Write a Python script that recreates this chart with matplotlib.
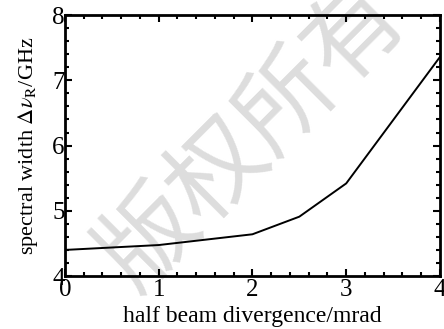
import matplotlib
matplotlib.use("Agg")
import matplotlib.pyplot as plt
from matplotlib.ticker import MultipleLocator

plt.rcParams['font.family'] = ['Liberation Serif', 'DejaVu Serif']
plt.rcParams['mathtext.fontset'] = 'stix'

divergence = [0, 1, 2, 2.5, 3, 4]
spectral_width = [4.40, 4.475, 4.64, 4.91, 5.42, 7.36]

fig = plt.figure(figsize=(4.44, 3.29), dpi=100)
ax = fig.add_axes([0.146, 0.161, 0.845, 0.793])

# watermark
fig.text(0.57, 0.585, '版权所有', fontsize=70, color='#dddddd', rotation=45,
         ha='center', va='center', family=['Noto Sans CJK SC', 'DejaVu Sans'], zorder=-5)

ax.plot(divergence, spectral_width, color='black', lw=1.4, zorder=3)
ax.set_xlim(0, 4)
ax.set_ylim(4, 8)
ax.patch.set_alpha(0)
ax.xaxis.set_major_locator(MultipleLocator(1))
ax.xaxis.set_minor_locator(MultipleLocator(0.2))
ax.yaxis.set_major_locator(MultipleLocator(1))
ax.yaxis.set_minor_locator(MultipleLocator(0.2))
ax.tick_params(which='both', direction='in', top=True, right=True, width=1.5)
ax.tick_params(which='major', length=5, labelsize=18)
ax.tick_params(axis='x', which='major', pad=2)
ax.tick_params(axis='y', which='major', pad=0)
ax.tick_params(which='minor', length=3)
for s in ax.spines.values():
    s.set_linewidth(2)
ax.set_xlabel('half beam divergence/mrad', fontsize=17, labelpad=4)
ax.set_ylabel(r'spectral width $\Delta\mathit{\nu}_\mathrm{R}$/GHz', fontsize=16, labelpad=9)

fig.savefig('out.png', dpi=100)
